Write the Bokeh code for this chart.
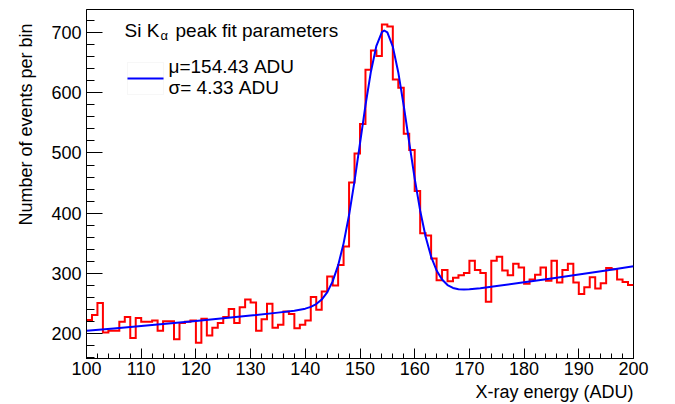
import math
from bokeh.plotting import figure
from bokeh.models import Range1d, FixedTicker, Label, BoxAnnotation, Title
from bokeh.embed import file_html
from bokeh.resources import INLINE

# ---- data ----
bin_lo = list(range(100, 200))          # lower edges of 1-ADU bins
counts = [223, 231, 251, 202, 205, 205, 220, 228, 193, 226,
          220, 220, 222, 205, 221, 221, 191, 218, 220, 222,
          185, 225, 197, 210, 218, 228, 241, 218, 244, 257,
          252, 205, 224, 250, 210, 215, 237, 233, 209, 215,
          222, 261, 240, 270, 295, 280, 314, 345, 451, 499,
          548, 638, 670, 661, 713, 710, 622, 608, 532, 505,
          437, 367, 363, 325, 289, 306, 287, 293, 297, 301,
          321, 306, 301, 253, 321, 328, 305, 297, 316, 310,
          283, 290, 298, 310, 288, 321, 285, 306, 316, 285,
          266, 277, 294, 275, 284, 309, 307, 290, 286, 281]
bin_hi_last = 200

fit_x = [100, 105, 110, 115, 120, 125, 130, 135, 138, 140, 141, 142, 143, 144,
         145, 146, 147, 148, 149, 150, 151, 152, 153, 154, 154.43, 155, 156,
         157, 158, 159, 160, 161, 162, 163, 164, 165, 166, 167, 168, 169, 170,
         172, 175, 180, 185, 190, 195, 200]
fit_y = [205, 208.8, 212.8, 216.9, 221.2, 225.7, 230.3, 235.1, 238.3, 241.7,
         244.7, 249.3, 256.8, 268.7, 287.0, 313.4, 350.0, 397.0, 453.4, 515.9,
         578.8, 635.2, 677.8, 700.5, 703.2, 699.9, 676.4, 633.6, 578.0, 517.0,
         457.3, 404.2, 360.9, 328.0, 305.0, 290.0, 280.9, 276.1, 274.0, 273.5,
         273.8, 275.6, 279.2, 285.4, 291.8, 298.4, 305.1, 312.0]

x_ticks = [100, 110, 120, 130, 140, 150, 160, 170, 180, 190, 200]
y_ticks = [200, 300, 400, 500, 600, 700]
x_minor = list(range(100, 201, 2))
y_minor = list(range(160, 741, 20))

x_title = "X-ray energy (ADU)"
y_title = "Number of events per bin"
legend_header = ["Si K", "\u03b1", "peak fit parameters"]
legend_entries = ["\u03bc=154.43 ADU", "\u03c3= 4.33 ADU"]

FONT = "Liberation Sans"

p = figure(width=675, height=404, x_range=Range1d(100, 200), y_range=Range1d(159, 738),
           output_backend="svg", toolbar_location=None,
           min_border_left=86, min_border_right=42, min_border_top=9, min_border_bottom=46)
p.background_fill_color = "white"
p.border_fill_color = "white"
p.outline_line_color = "black"
p.outline_line_width = 1
p.outline_line_alpha = 1.0
p.xgrid.visible = False
p.ygrid.visible = False

p.xaxis.ticker = FixedTicker(ticks=x_ticks, minor_ticks=x_minor)
p.yaxis.ticker = FixedTicker(ticks=y_ticks, minor_ticks=y_minor)
for ax in (p.xaxis[0], p.yaxis[0]):
    ax.axis_line_color = "black"
    ax.major_tick_line_color = "black"
    ax.minor_tick_line_color = "black"
    ax.major_label_text_color = "black"
    ax.major_label_text_font = FONT
    ax.major_label_text_font_size = "18px"
    ax.major_tick_out = 0
    ax.minor_tick_out = 0
p.xaxis.major_tick_in = 10
p.xaxis.minor_tick_in = 5
p.xaxis.major_label_standoff = 3
p.yaxis.major_tick_in = 16
p.yaxis.minor_tick_in = 8
p.yaxis.major_label_standoff = 5

# axis titles, aligned to the axis ends as in the reference
xt = Title(text=x_title, align="right", text_font=FONT, text_font_size="18px",
           text_font_style="normal", text_color="black", standoff=5, offset=0)
p.add_layout(xt, "below")
yt = Title(text=y_title, align="right", vertical_align="top", text_font=FONT,
           text_font_size="18px", text_font_style="normal", text_color="black",
           standoff=21, offset=14)
p.add_layout(yt, "left")

# histogram outline
edges = bin_lo + [bin_hi_last]
p.step(x=edges, y=counts + [counts[-1]], mode="after", line_color="#ff0000",
       line_width=2, line_join="miter")
# fit curve
p.line(fit_x, fit_y, line_color="#0000ff", line_width=2, line_join="round")

# frame-relative screen positions (frame left = 86, bottom = 358 px in canvas)
def lab(text, X, Ybase, size="19px", align="left", baseline="alphabetic"):
    p.add_layout(Label(x=X - 86, y=358 - Ybase, x_units="screen", y_units="screen",
                       text=text, text_font=FONT, text_font_size=size,
                       text_color="black", text_align=align, text_baseline=baseline))

# legend
lab(legend_header[0], 124, 30)
lab(legend_header[1], 160, 35, size="13px")
lab(legend_header[2], 175, 30)
lab(legend_entries[0], 168, 66)
lab(legend_entries[1], 168, 87)
for top, bot in ((62, 78), (78, 94)):
    p.add_layout(BoxAnnotation(left=127 - 86, right=163 - 86, top=358 - top, bottom=358 - bot,
                               left_units="screen", right_units="screen",
                               top_units="screen", bottom_units="screen",
                               fill_alpha=0, line_color="#e4e4e4", line_width=1))
p.add_layout(BoxAnnotation(left=127 - 86, right=163 - 86, top=358 - 77, bottom=358 - 79,
                           left_units="screen", right_units="screen",
                           top_units="screen", bottom_units="screen",
                           fill_color="#0000ff", fill_alpha=1, line_alpha=0))

open("out.html", "w").write(file_html(p, INLINE))
